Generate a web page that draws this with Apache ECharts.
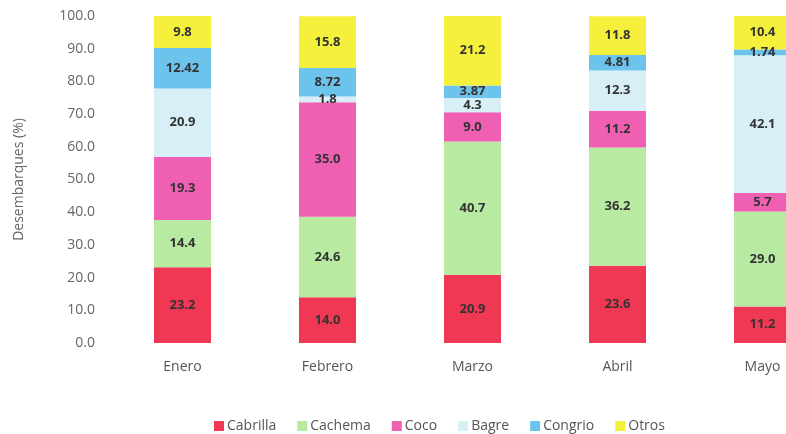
<!DOCTYPE html>
<html>
<head>
<meta charset="utf-8">
<script src="https://cdn.jsdelivr.net/npm/echarts@6/dist/echarts.min.js"></script>
<style>
  html, body { margin: 0; padding: 0; background: #fff; }
  #main { width: 786px; height: 434px; }
</style>
</head>
<body>
<div id="main"></div>
<script>
const months = ['Enero', 'Febrero', 'Marzo', 'Abril', 'Mayo'];
const cabrilla = [23.2, 14.0, 20.9, 23.6, 11.2];
const cachema = [14.4, 24.6, 40.7, 36.2, 29.0];
const coco = [19.3, 35.0, 9.0, 11.2, 5.7];
const bagre = [20.9, 1.8, 4.3, 12.3, 42.1];
const congrio = [12.42, 8.72, 3.87, 4.81, 1.74];
const otros = [9.8, 15.8, 21.2, 11.8, 10.4];

const font = 'Open Sans';

function layer(name, data, color, digits) {
  return {
    name: name,
    type: 'bar',
    stack: 'total',
    data: data,
    barWidth: 57,
    itemStyle: { color: color },
    label: {
      show: true,
      position: 'inside',
      color: '#333',
      fontFamily: font,
      fontWeight: 'bold',
      fontSize: 13,
      formatter: p => p.value.toFixed(digits)
    }
  };
}

let myChart = echarts.init(document.getElementById('main'));
let option = {
  animation: false,
  textStyle: { fontFamily: font },
  grid: {
    left: 110,
    top: 16,
    width: 725,
    height: 327,
    outerBoundsMode: 'none',
    containLabel: false
  },
  legend: {
    data: ['Cabrilla', 'Cachema', 'Coco', 'Bagre', 'Congrio', 'Otros'],
    left: 209,
    top: 414,
    itemWidth: 10,
    itemHeight: 10,
    itemGap: 21,
    icon: 'rect',
    textStyle: { color: '#555', fontSize: 14, fontFamily: font, padding: [0, 0, 0, -2] }
  },
  xAxis: {
    type: 'category',
    data: months,
    axisLine: { show: false },
    axisTick: { show: false },
    axisLabel: { color: '#555', fontSize: 14, margin: 17, fontFamily: font }
  },
  yAxis: {
    type: 'value',
    min: 0,
    max: 100,
    interval: 10,
    name: 'Desembarques (%)',
    nameLocation: 'middle',
    nameGap: 84,
    nameTextStyle: { color: '#666', fontSize: 14, fontFamily: font },
    splitLine: { show: false },
    axisLine: { show: false },
    axisLabel: {
      color: '#666',
      fontSize: 14,
      margin: 15,
      fontFamily: font,
      formatter: v => v.toFixed(1)
    }
  },
  series: [
    layer('Cabrilla', cabrilla, '#f03854', 1),
    layer('Cachema', cachema, '#b8eaa2', 1),
    layer('Coco', coco, '#ef5fb2', 1),
    layer('Bagre', bagre, '#d8eff8', 1),
    layer('Congrio', congrio, '#6cc3ec', 2),
    layer('Otros', otros, '#f5f03c', 1)
  ]
};
myChart.setOption(option);
</script>
</body>
</html>
